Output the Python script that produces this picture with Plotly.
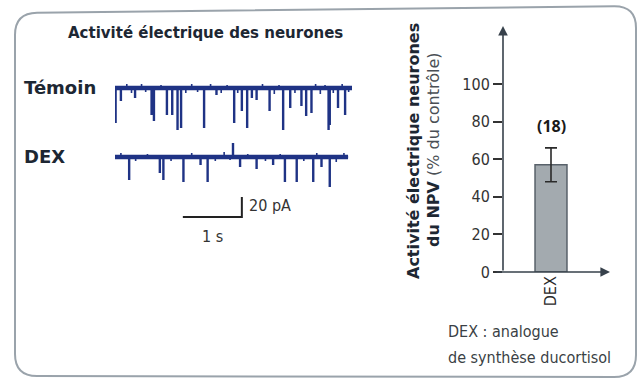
import plotly.graph_objects as go

W, H = 641, 379

# ---------------- data ----------------
# Electrophysiology traces (time in s, downward current amplitude in pA)
temoin_spike_t = [0.01, 0.10, 0.34, 0.62, 0.66, 0.88, 0.97, 1.06, 1.12, 1.51, 1.72,
                  2.02, 2.15, 2.24, 2.32, 2.40, 2.62, 2.85, 2.97, 3.16, 3.24, 3.33,
                  3.62, 3.64, 3.78, 3.90]
temoin_spike_a = [35, 13, 10, 27, 33, 27, 27, 42, 40, 40, 7,
                  35, 23, 40, 10, 12, 23, 42, 20, 18, 28, 25,
                  42, 37, 20, 27]
temoin_small_t = [0.20, 0.28, 0.45, 0.52, 0.78, 1.20, 1.30, 1.40, 1.62, 1.80, 1.90,
                  2.08, 2.50, 2.70, 2.78, 3.05, 3.40, 3.48, 3.56, 3.70, 3.85, 3.96]
temoin_small_a = [-4, 5, -4, 4, -3, 5, -4, 4, -4, 5, -3,
                  5, -4, 6, -3, 5, -4, 6, -3, 5, -4, 4]

dex_spike_t = [0.24, 0.76, 0.82, 1.16, 1.45, 1.57, 2.00, 2.12, 2.40, 2.68,
               2.88, 3.08, 3.36, 3.50, 3.64]
dex_spike_a = [23, 16, 23, 25, 8, 25, -14, 10, 12, 8,
               25, 25, 25, 10, 30]
dex_small_t = [0.10, 0.35, 0.55, 0.95, 1.30, 1.70, 1.85, 1.95, 2.25, 2.55,
               2.80, 3.20, 3.42, 3.75, 3.88]
dex_small_a = [-4, 4, -3, 4, -4, 4, -5, 3, -3, 4, -3, 4, -4, 5, -4]

temoin_end = 4.02
dex_end = 3.95
dex_offset = -69          # vertical placement of the DEX trace (pA)

scale_time = 1            # s
scale_amp = 20            # pA

# Bar chart
bar_categories = ["DEX"]
bar_values = [57]
bar_err = [9]
bar_n = ["(18)"]
y_ticks = [0, 20, 40, 60, 80, 100]

# ---------------- helpers ----------------
def px(x):
    return x / W

def py(y):
    return 1 - y / H

def build(times, amps, t_end, offset):
    xs, ys = [0], [offset]
    for t, a in zip(times, amps):
        xs += [t, t, t]
        ys += [offset, offset - a, offset]
    xs.append(t_end)
    ys.append(offset)
    return xs, ys

NARROW = "Liberation Sans Narrow, DejaVu Sans Condensed, sans-serif"
BOLD = "DejaVu Sans, Liberation Sans, sans-serif"
BOLD2 = "Open Sans, Liberation Sans, sans-serif"
TRACE = "#1f3385"

fig = go.Figure()

# --- traces (left axis) ---
for times, amps, small_t, small_a, t_end, off in [
    (temoin_spike_t, temoin_spike_a, temoin_small_t, temoin_small_a, temoin_end, 0),
    (dex_spike_t, dex_spike_a, dex_small_t, dex_small_a, dex_end, dex_offset),
]:
    fig.add_trace(go.Scatter(x=[0, t_end], y=[off, off], mode="lines",
                             line=dict(color=TRACE, width=4.5), hoverinfo="skip",
                             xaxis="x", yaxis="y", showlegend=False))
    sx, sy = build(small_t, small_a, t_end, off)
    fig.add_trace(go.Scatter(x=sx, y=sy, mode="lines",
                             line=dict(color=TRACE, width=1.6), hoverinfo="skip",
                             xaxis="x", yaxis="y", showlegend=False))
    xs, ys = build(times, amps, t_end, off)
    fig.add_trace(go.Scatter(x=xs, y=ys, mode="lines",
                             line=dict(color=TRACE, width=2.4), hoverinfo="skip",
                             xaxis="x", yaxis="y", showlegend=False))

# --- scale bar ---
sb_x0, sb_y0 = 1.15, -129
fig.add_trace(go.Scatter(x=[sb_x0, sb_x0 + scale_time, sb_x0 + scale_time],
                         y=[sb_y0, sb_y0, sb_y0 + scale_amp], mode="lines",
                         line=dict(color="#222222", width=2), hoverinfo="skip",
                         xaxis="x", yaxis="y", showlegend=False))
fig.add_annotation(x=sb_x0 + scale_time, y=sb_y0 + scale_amp / 2, xref="x", yref="y",
                   text=f"{scale_amp} pA", showarrow=False, xanchor="left",
                   yanchor="middle", xshift=5, yshift=1,
                   font=dict(family=NARROW, size=16, color="#333333"))
fig.add_annotation(x=sb_x0 + scale_time / 2, y=sb_y0, xref="x", yref="y",
                   text=f"{scale_time} s", showarrow=False, xanchor="center",
                   yanchor="top", yshift=-8,
                   font=dict(family=NARROW, size=16, color="#333333"))

# --- bar chart ---
fig.add_trace(go.Bar(x=bar_categories, y=bar_values, width=0.333,
                     marker=dict(color="#a3aaaf", line=dict(color="#58616a", width=1.5)),
                     error_y=dict(type="data", array=bar_err, color="#2a2a2a",
                                  thickness=1.6, width=6),
                     textposition="none",
                     xaxis="x2", yaxis="y2", showlegend=False, hoverinfo="skip"))
for cat, v, e, n in zip(bar_categories, bar_values, bar_err, bar_n):
    fig.add_annotation(x=cat, y=v + e, xref="x2", yref="y2", text=f"<b>{n}</b>",
                       showarrow=False, xanchor="center", yanchor="bottom", yshift=9,
                       font=dict(family=BOLD2, size=16, color="#1a1a1a"))

layout_axes = dict(
    xaxis=dict(domain=[px(115), px(352)], range=[0, 237 / 59], visible=False,
               fixedrange=True),
    yaxis=dict(domain=[py(245), py(70)], range=[-157, 18], visible=False,
               fixedrange=True),
    xaxis2=dict(domain=[px(503), px(599)], range=[-0.5, 0.5], showline=False,
                ticks="", showgrid=False, zeroline=False, tickangle=-90,
                tickfont=dict(family=NARROW, size=16, color="#2a2a2a"),
                anchor="y2", automargin=False),
    yaxis2=dict(domain=[py(272), py(28)], range=[0, 244 / 1.88], showline=False,
                tickvals=y_ticks, ticks="outside", ticklen=9, tickwidth=1.5,
                tickcolor="#333333", showgrid=False, zeroline=False,
                tickfont=dict(family=NARROW, size=16, color="#333333"),
                anchor="x2", automargin=False),
)

# axis arrows
fig.add_annotation(x=px(503), y=py(26), ax=0, ay=246, xref="paper", yref="paper",
                   text="", showarrow=True, arrowhead=2,
                   arrowsize=1.2, arrowwidth=1.6, arrowcolor="#37414b")
fig.add_annotation(x=px(610), y=py(272), ax=-115, ay=0, xref="paper", yref="paper",
                   text="", showarrow=True, arrowhead=2,
                   arrowsize=1.2, arrowwidth=1.6, arrowcolor="#37414b")

# y axis title (two lines)
fig.add_annotation(x=px(414), y=py(151), xref="paper", yref="paper", textangle=-90,
                   xanchor="center", yanchor="middle",
                   text="<b>Activité électrique neurones</b>", showarrow=False,
                   font=dict(family=BOLD, size=16, color="#1d2733"))
fig.add_annotation(x=px(433), y=py(150), xref="paper", yref="paper", textangle=-90,
                   xanchor="center", yanchor="middle",
                   text="<b>du NPV</b> <span style='color:#4a4f55'>(% du contrôle)</span>",
                   showarrow=False, font=dict(family=BOLD, size=16, color="#1d2733"))

# left labels
fig.add_annotation(x=px(205), y=py(33), xref="paper", yref="paper",
                   xanchor="center", yanchor="middle",
                   text="<b>Activité électrique des neurones</b>", showarrow=False,
                   font=dict(family=BOLD, size=15, color="#1d2733"))
fig.add_annotation(x=px(22), y=py(88), xref="paper", yref="paper",
                   xanchor="left", yanchor="middle",
                   text="<b>Témoin</b>", showarrow=False,
                   font=dict(family=BOLD, size=18, color="#1d2733"))
fig.add_annotation(x=px(22), y=py(157), xref="paper", yref="paper",
                   xanchor="left", yanchor="middle",
                   text="<b>DEX</b>", showarrow=False,
                   font=dict(family=BOLD, size=18, color="#1d2733"))

# footnote
fig.add_annotation(x=px(446), y=py(331), xref="paper", yref="paper",
                   xanchor="left", yanchor="middle",
                   text="DEX : analogue", showarrow=False,
                   font=dict(family=NARROW, size=16, color="#3a3f45"))
fig.add_annotation(x=px(446), y=py(357), xref="paper", yref="paper",
                   xanchor="left", yanchor="middle",
                   text="de synthèse ducortisol", showarrow=False,
                   font=dict(family=NARROW, size=16, color="#3a3f45"))

# rounded frame
def frame_path(x0, y0t, x1, y1t, y0b, y1b, r):
    slope = (y1t - y0t) / (x1 - x0)
    pts = [
        f"M {px(x0)},{py(y0t + r)}",
        f"Q {px(x0)},{py(y0t)} {px(x0 + r)},{py(y0t + slope * r)}",
        f"L {px(x1 - r)},{py(y1t - slope * r)}",
        f"Q {px(x1)},{py(y1t)} {px(x1)},{py(y1t + r)}",
        f"L {px(x1)},{py(y1b - r)}",
        f"Q {px(x1)},{py(y1b)} {px(x1 - r)},{py(y1b)}",
        f"L {px(x0 + r)},{py(y0b)}",
        f"Q {px(x0)},{py(y0b)} {px(x0)},{py(y0b - r)}",
        "Z",
    ]
    return " ".join(pts)

fig.add_shape(type="path", xref="paper", yref="paper",
              path=frame_path(15, 13, 636, 6, 376, 377, 22),
              line=dict(color="#9aa3ab", width=2), fillcolor="rgba(0,0,0,0)", layer="below")

fig.update_layout(
    width=W, height=H, margin=dict(l=0, r=0, t=0, b=0, autoexpand=False),
    paper_bgcolor="white", plot_bgcolor="rgba(0,0,0,0)",
    showlegend=False, **layout_axes,
)

fig.write_html("out.html", config=dict(displayModeBar=False))
